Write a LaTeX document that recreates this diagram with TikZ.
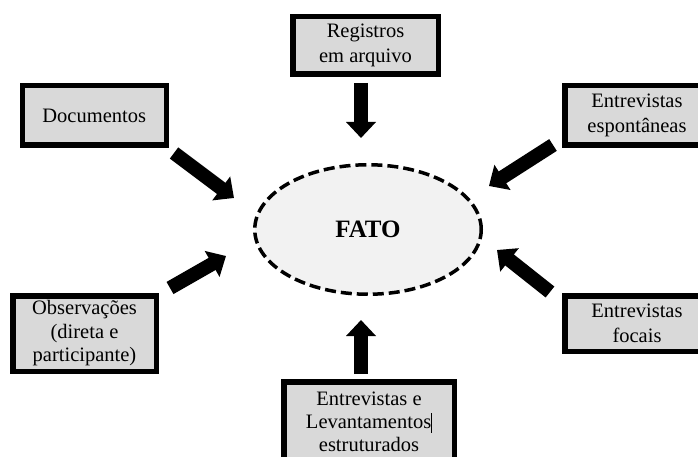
\documentclass[tikz,border=0pt]{standalone}
\usepackage{fontspec}
\setmainfont{Liberation Serif}
\usetikzlibrary{arrows.meta,shapes.geometric}
\definecolor{boxgray}{HTML}{D9D9D9}
\definecolor{ellgray}{HTML}{F2F2F2}
\tikzset{
  srcbox/.style={draw=black, line width=5.5pt, fill=boxgray, inner sep=0pt,
    align=center, font=\fontsize{20.5}{25}\selectfont, text=black},
  boxtext/.style={inner sep=0pt, align=center, text=black},
  factell/.style={ellipse, draw=black, line width=3.5pt, fill=ellgray,
    dash pattern=on 11pt off 5pt, inner sep=0pt,
    minimum width=226.5pt, minimum height=129.5pt,
    font=\fontsize{25}{30}\selectfont\bfseries},
  blockarrow/.style={line width=14pt, -{Triangle[width=29pt,length=16pt]}}
}
\begin{document}
\begin{tikzpicture}[x=1pt,y=-1pt]
\useasboundingbox (0,0) rectangle (698,457);
\clip (0,0) rectangle (698,457);
\node[factell] (fato) at (368,229.5) {FATO};
\node[srcbox, minimum width=145.5pt, minimum height=57.5pt] (reg) at (365.5,45.5) {Registros\\em arquivo};
\node[srcbox, minimum width=144pt, minimum height=59.5pt] (doc) at (94.25,115.5) {Documentos};
\node[srcbox, minimum width=144.5pt, minimum height=59.5pt] (esp) at (637,115.5) {Entrevistas\\espontâneas};
\node[srcbox, minimum width=143.5pt, minimum height=75.5pt] (obs) at (84.5,333.5) {};
\node[boxtext, font=\fontsize{20.5}{23.5}\selectfont] (obstext) at (obs.center) {Observações\\(direta e\\participante)};
\node[srcbox, minimum width=144.5pt, minimum height=55.5pt] (foc) at (637,323.5) {Entrevistas\\focais};
\node[srcbox, minimum width=170.5pt, minimum height=80.5pt, font=\fontsize{20.5}{23}\selectfont] (bot) at (369,422) {Entrevistas e\\Levantamentos\rule[-4pt]{0.8pt}{20pt}\\estruturados};
% arrow endpoints
\coordinate (regT) at (361,83);  \coordinate (regH) at (361,138);
\coordinate (docT) at (174,153); \coordinate (docH) at (234,198);
\coordinate (espT) at (553,145); \coordinate (espH) at (489,186);
\coordinate (obsT) at (170,288); \coordinate (obsH) at (226,256);
\coordinate (focT) at (550,292); \coordinate (focH) at (497,250);
\coordinate (botT) at (361,374); \coordinate (botH) at (361,320);
\draw[blockarrow] (regT) -- (regH);
\draw[blockarrow] (docT) -- (docH);
\draw[blockarrow] (espT) -- (espH);
\draw[blockarrow] (obsT) -- (obsH);
\draw[blockarrow] (focT) -- (focH);
\draw[blockarrow] (botT) -- (botH);
\end{tikzpicture}
\end{document}
